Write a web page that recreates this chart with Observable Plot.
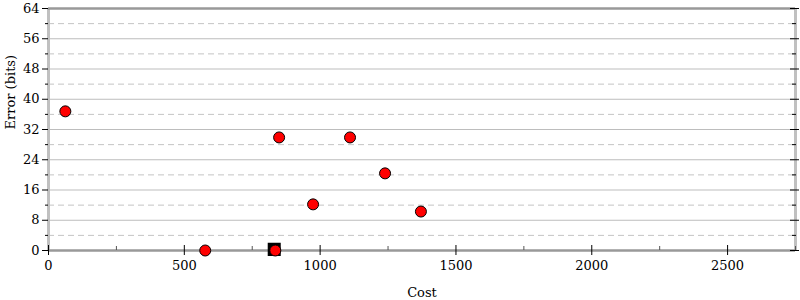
<!DOCTYPE html>
<html><head><meta charset="utf-8">
<script src="https://cdn.jsdelivr.net/npm/d3@7"></script>
<script src="https://cdn.jsdelivr.net/npm/@observablehq/plot@0.6"></script>
<style>body{margin:0;background:#fff}</style>
</head><body><div id="chart"></div>
<script>
const costs = [62, 577, 849, 1110, 974, 1239, 1371, 835];
const errors = [36.8, 0, 29.9, 29.9, 12.2, 20.4, 10.3, 0];
const bestCost = [831];
const bestError = [0.3];
const yMajor = [0, 8, 16, 24, 32, 40, 48, 56, 64];
const yMinor = [4, 12, 20, 28, 36, 44, 52, 60];
const xMajor = [0, 500, 1000, 1500, 2000, 2500];
const xMinor = [250, 750, 1250, 1750, 2250, 2750];
const xDomain = [0, 2750];
const yDomain = [0, 64];

const pts = costs.map((c, i) => ({cost: c, error: errors[i]}));
const best = bestCost.map((c, i) => ({cost: c, error: bestError[i]}));

const chart = Plot.plot({
  width: 800, height: 300,
  marginLeft: 48, marginRight: 5, marginTop: 8, marginBottom: 50,
  style: {fontFamily: "DejaVu Serif", fontSize: "13px", color: "#000", background: "#fff"},
  x: {domain: xDomain},
  y: {domain: yDomain},
  marks: [
    Plot.ruleY(yMinor, {stroke: "#c4c4c4", strokeDasharray: "6,4", strokeWidth: 1}),
    Plot.ruleY(yMajor.slice(1, -1), {stroke: "#bdbdbd", strokeWidth: 1}),
    Plot.ruleX([xDomain[0], xDomain[1]], {stroke: "#c0c0c0", strokeWidth: 3}),
    Plot.ruleY([64], {stroke: "#999", strokeWidth: 2.5}),
    Plot.ruleY([0], {stroke: "#999", strokeWidth: 2.5}),
    Plot.axisY({ticks: yMajor, tickSize: 6, tickPadding: 3, label: null, tickFormat: d3.format("d")}),
    Plot.axisY({ticks: yMinor, tickSize: 3, tickFormat: () => "", label: null}),
    Plot.axisY({anchor: "right", ticks: yMajor, tickSize: 3, tickFormat: () => "", label: null}),
    Plot.axisY({anchor: "right", ticks: yMajor, tickSize: -6, tickFormat: () => "", label: null}),
    Plot.axisY({anchor: "right", ticks: yMinor, tickSize: -4, tickFormat: () => "", label: null}),
    Plot.axisX({ticks: xMajor, tickSize: 5, tickPadding: 5, label: null, tickFormat: d3.format("d")}),
    Plot.axisX({ticks: xMajor, tickSize: -5, tickFormat: () => "", label: null}),
    Plot.axisX({ticks: xMinor, tickSize: -4, tickFormat: () => "", label: null, stroke: "#555"}),
    Plot.dot(best, {x: "cost", y: "error", symbol: "square", r: 6.5, fill: "#000", stroke: "#000"}),
    Plot.dot(pts, {x: "cost", y: "error", r: 5.5, fill: "#f00", stroke: "#000", strokeWidth: 1}),
    Plot.text(["Error (bits)"], {frameAnchor: "left", rotate: -90, dx: -38, fontSize: 13}),
    Plot.text(["Cost"], {frameAnchor: "bottom", dy: 46, fontSize: 13})
  ]
});
document.getElementById("chart").appendChild(chart);
</script>
</body></html>
